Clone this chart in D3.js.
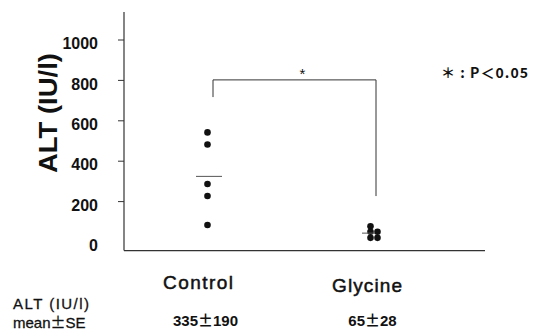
<!DOCTYPE html>
<meta charset="utf-8">
<title>ALT</title>
<style>
body { margin: 0; background: #fff; }
svg { font-family: "Liberation Sans", Arial, sans-serif; }
.axis line, .axis path { stroke: #333; fill: none; }
.axis text { fill: #111; font-size: 16px; font-weight: bold; font-family: "Liberation Sans Narrow", "Liberation Sans", Arial, sans-serif; }
.pm { font-family: "Noto Sans CJK JP", sans-serif; }
</style>
<body>
<script src="https://d3js.org/d3.v7.min.js"></script>
<script>

// values
var categories = ["Control", "Glycine"];
var controlValues = [540, 480, 285, 225, 82];
var glycineValues = [75, 48, 48, 18, 18];
var glycineCols = [0, 0, 1, 0, 1];
var yTicks = [0, 200, 400, 600, 800, 1000];
var summary = ["335±190", "65±28"];
var bracketTop = 800, bracketEnds = [715, 225];

var width = 539, height = 335;

var svg = d3.select("body").append("svg")
    .attr("width", width)
    .attr("height", height);

var x = d3.scalePoint()
    .domain(categories)
    .range([210, 373]);

var y = d3.scaleLinear()
    .domain([0, 1000])
    .range([241.5, 39.5]);

var points = controlValues.map(function(v) { return {cat: "Control", v: v, col: 0}; })
  .concat(glycineValues.map(function(v, i) { return {cat: "Glycine", v: v, col: glycineCols[i]}; }));

// splits "a±b" so the ± gets the wide CJK glyph
function pmText(sel, s) {
  var parts = s.split("±");
  sel.append("tspan").text(parts[0]);
  sel.append("tspan").attr("class", "pm").text("±");
  sel.append("tspan").text(parts[1]);
}

// y axis
var yAxis = svg.append("g")
    .attr("class", "axis")
    .attr("transform", "translate(124,0)")
    .call(d3.axisLeft(y).tickValues(yTicks).tickSize(6).tickPadding(20).tickFormat(d3.format("d")));
yAxis.select(".domain").remove();
yAxis.selectAll("text").attr("dy", "0.58em");
yAxis.selectAll(".tick").filter(function(d) { return d === 0; }).select("line").remove();

svg.append("line")
    .attr("x1", 124).attr("x2", 124)
    .attr("y1", y(1136)).attr("y2", y(-45))
    .style("stroke", "#333").style("stroke-width", 1.2);

svg.append("line")
    .attr("x1", 124).attr("x2", 485)
    .attr("y1", y(-45)).attr("y2", y(-45))
    .style("stroke", "#333").style("stroke-width", 1.2);

svg.append("text")
    .attr("transform", "translate(57,113) rotate(-90)")
    .attr("textLength", 120)
    .attr("lengthAdjust", "spacingAndGlyphs")
    .style("text-anchor", "middle")
    .style("font-size", "25px")
    .style("font-weight", "bold")
    .style("fill", "#111")
    .text("ALT (IU/l)");

// dots
svg.selectAll(".dot")
    .data(points)
  .enter().append("circle")
    .attr("class", "dot")
    .attr("r", 3.3)
    .attr("cx", function(d) { return x(d.cat) - 2.5 + d.col * 7; })
    .attr("cy", function(d) { return y(d.v); })
    .style("fill", "#111");

// mean lines
var means = [d3.mean(controlValues), d3.mean(glycineValues)];
var meanSpan = [[-14, 12], [-11, 2]];
svg.selectAll(".mean")
    .data(categories)
  .enter().append("line")
    .attr("class", "mean")
    .attr("x1", function(d, i) { return x(d) + meanSpan[i][0]; })
    .attr("x2", function(d, i) { return x(d) + meanSpan[i][1]; })
    .attr("y1", function(d, i) { return y(means[i]); })
    .attr("y2", function(d, i) { return y(means[i]); })
    .style("stroke", "#555")
    .style("stroke-width", 1);

// significance bracket
var bx = categories.map(function(c) { return x(c) + 3; });
svg.append("path")
    .attr("d", "M" + bx[0] + "," + y(bracketEnds[0]) + "V" + y(bracketTop) +
               "H" + bx[1] + "V" + y(bracketEnds[1]))
    .style("fill", "none")
    .style("stroke", "#333")
    .style("stroke-width", 1);

svg.append("text")
    .attr("x", (bx[0] + bx[1]) / 2 + 8)
    .attr("y", y(bracketTop) - 1)
    .style("text-anchor", "middle")
    .style("font-size", "15px")
    .style("fill", "#111")
    .text("*");

svg.append("text")
    .attr("x", 441)
    .attr("y", 78)
    .attr("textLength", 87)
    .attr("lengthAdjust", "spacing")
    .style("font-family", "'Noto Sans CJK JP', sans-serif")
    .style("font-size", "14px")
    .style("font-weight", "bold")
    .style("fill", "#111")
    .text("＊ : P＜0.05");

// category labels
var labelOffset = [[-12, 289], [-6, 292]];
svg.selectAll(".cat")
    .data(categories)
  .enter().append("text")
    .attr("class", "cat")
    .attr("x", function(d, i) { return x(d) + labelOffset[i][0]; })
    .attr("y", function(d, i) { return labelOffset[i][1]; })
    .attr("textLength", 70)
    .attr("lengthAdjust", "spacing")
    .style("text-anchor", "middle")
    .style("font-size", "19px")
    .style("fill", "#111")
    .style("stroke", "#111")
    .style("stroke-width", 0.5)
    .text(function(d) { return d; });

svg.append("text")
    .attr("x", 13).attr("y", 309)
    .attr("textLength", 76)
    .attr("lengthAdjust", "spacing")
    .style("font-size", "15px")
    .style("fill", "#111")
    .style("stroke", "#111")
    .style("stroke-width", 0.3)
    .text("ALT (IU/l)");

svg.append("text")
    .attr("x", 13).attr("y", 328)
    .style("font-size", "15px")
    .style("fill", "#111")
    .style("stroke", "#111")
    .style("stroke-width", 0.3)
    .call(pmText, "mean±SE");

var summaryOffset = [-4.5, -0.5];
svg.selectAll(".summary")
    .data(summary)
  .enter().append("text")
    .attr("class", "summary")
    .attr("x", function(d, i) { return x(categories[i]) + summaryOffset[i]; })
    .attr("y", 326)
    .style("text-anchor", "middle")
    .style("font-size", "15px")
    .style("font-weight", "bold")
    .style("fill", "#111")
    .each(function(d) { pmText(d3.select(this), d); });

</script>
</body>
